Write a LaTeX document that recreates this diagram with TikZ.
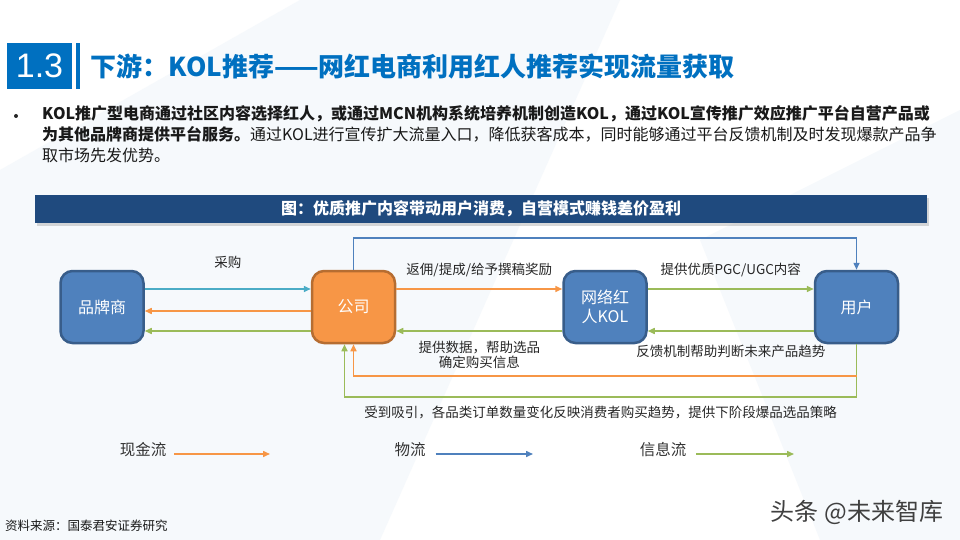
\documentclass[tikz,border=0pt]{standalone}
\usepackage{fontspec}
\setmainfont{Noto Sans CJK SC}
\newfontfamily\numfont{Liberation Sans}
\usetikzlibrary{arrows.meta, positioning, shadows}

\definecolor{boxblue}{HTML}{4F81BD}
\definecolor{boxblueedge}{HTML}{385D8A}
\definecolor{boxorange}{HTML}{F79646}
\definecolor{boxorangeedge}{HTML}{B66D31}
\definecolor{flowcyan}{HTML}{4BACC6}
\definecolor{flowblue}{HTML}{4F81BD}
\definecolor{flowgreen}{HTML}{9BBB59}
\definecolor{titleblue}{HTML}{0070C0}
\definecolor{barnavy}{HTML}{1F4A7E}
\definecolor{bgtint}{HTML}{F6F9FC}

\begin{document}
\begin{tikzpicture}[
    x=1pt, y=-1pt,
    node distance=10pt and 166pt,
    party/.style={rectangle, draw=boxblueedge, line width=2.5pt, rounded corners=12pt, fill=boxblue, minimum width=83pt, minimum height=72pt, align=center, text=white, font=\fontsize{16}{19}\selectfont},
    hub/.style={party, draw=boxorangeedge, fill=boxorange},
    flow/.style={-{Triangle[length=7pt,width=6pt]}, line width=1.5pt},
    lbl/.style={font=\fontsize{13.5}{15}\selectfont, text=black!85, align=center, inner sep=0pt},
    legend/.style={font=\fontsize{15.5}{18}\selectfont, text=black!80, inner sep=0pt}
]
    \useasboundingbox (0,0) rectangle (960,540);
    % faint background
    \fill[white] (0,0) rectangle (960,540);
    \fill[bgtint] (0,170) -- (300,0) -- (620,0) -- (380,540) -- (0,540) -- cycle;
    \fill[bgtint] (700,240) -- (960,110) -- (960,540) -- (820,540) -- cycle;

    % heading
    \node[fill=titleblue, minimum width=65pt, minimum height=46pt, inner sep=0pt, text=white, font=\numfont\fontsize{34}{34}\selectfont] (secno) at (39.5,66) {1.3};
    \node[fill=titleblue, minimum width=4pt, minimum height=46pt, inner sep=0pt, right=4pt of secno] (secbar) {};
    \node[text=titleblue, font=\bfseries\fontsize{26}{30}\selectfont, inner sep=0pt, right=10pt of secbar] (headline) {下游：KOL推荐——网红电商利用红人推荐实现流量获取};

    \node[circle, fill=black!85, minimum size=4pt, inner sep=0pt] (bullet) at (16,116) {};
    \node[anchor=north west, align=left, font=\fontsize{16}{21}\selectfont, text=black!90, inner sep=0pt] (intro) at (42,105)
        {\textbf{KOL推广型电商通过社区内容选择红人，或通过MCN机构系统培养机制创造KOL，通过KOL宣传推广效应推广平台自营产品或}\\
         \textbf{为其他品牌商提供平台服务。}通过KOL进行宣传扩大流量入口，降低获客成本，同时能够通过平台反馈机制及时发现爆款产品争\\
         取市场先发优势。};

    \node[fill=barnavy, minimum width=892pt, minimum height=28pt, inner sep=0pt, text=white, font=\bfseries\fontsize{16}{19}\selectfont,
          drop shadow={shadow xshift=2pt, shadow yshift=-3pt, opacity=0.3}] (banner) at (481,209) {图：优质推广内容带动用户消费，自营模式赚钱差价盈利};

    % parties
    \node[party] (brand) at (102,307) {品牌商};
    \node[hub, right=of brand] (company) {公司};
    \node[party, right=of company] (kol) {网络红\\人KOL};
    \node[party, right=of kol] (user) {用户};

    \coordinate (overline) at (0,238);
    \coordinate (cashline) at (0,376);
    \coordinate (infoline) at (0,397);

    \draw[flow, flowcyan] ([yshift=18pt]brand.east) -- node[lbl, above=20pt]{采购} ([yshift=18pt]company.west);
    \draw[flow, boxorange] ([yshift=-4pt]company.west) -- ([yshift=-4pt]brand.east);
    \draw[flow, flowgreen] ([yshift=-24pt]company.west) -- ([yshift=-24pt]brand.east);
    \draw[flow, boxorange] ([yshift=18pt]company.east) -- node[lbl, above=11pt]{返佣/提成/给予撰稿奖励} ([yshift=18pt]kol.west);
    \draw[flow, flowgreen] ([yshift=18pt]kol.east) -- node[lbl, above=11pt]{提供优质PGC/UGC内容} ([yshift=18pt]user.west);
    \draw[flow, flowgreen] ([yshift=-24pt]user.west) -- node[lbl, below=13pt]{反馈机制帮助判断未来产品趋势} ([yshift=-24pt]kol.east);
    \draw[flow, flowgreen] ([yshift=-24pt]kol.west) -- node[lbl, below=9pt]{提供数据，帮助选品\\确定购买信息} ([yshift=-24pt]company.east);

    \draw[flow, flowblue] (company.north) -- (company.north |- overline) -| (user.north);
    \draw[flow, flowgreen] (user.south) |- node[lbl, below=8pt, pos=0.75]{受到吸引，各品类订单数量变化反映消费者购买趋势，提供下阶段爆品选品策略} ([xshift=-9pt]company.south |- infoline) -- ([xshift=-9pt]company.south);
    \draw[flow, boxorange] (user.south |- cashline) -| (company.south);

    % legend
    \node[legend] (cash) at (143,450) {现金流};
    \node[legend] (goods) at (410,450) {物流};
    \node[legend] (info) at (663,450) {信息流};
    \coordinate (cashtip) at (270,454);
    \coordinate (goodstip) at (533,454);
    \coordinate (infotip) at (794,454);
    \draw[flow, boxorange] ([xshift=8pt]cash.east |- cashtip) -- (cashtip);
    \draw[flow, flowblue] ([xshift=10pt]goods.east |- goodstip) -- (goodstip);
    \draw[flow, flowgreen] ([xshift=10pt]info.east |- infotip) -- (infotip);

    \node[anchor=west, font=\fontsize{12.5}{15}\selectfont, text=black!90, inner sep=0pt] (source) at (5,526) {资料来源：国泰君安证券研究};
    \node[font=\fontsize{24}{28}\selectfont, text=black!75, inner sep=0pt] (mark) at (857,512) {头条 @未来智库};
\end{tikzpicture}
\end{document}
